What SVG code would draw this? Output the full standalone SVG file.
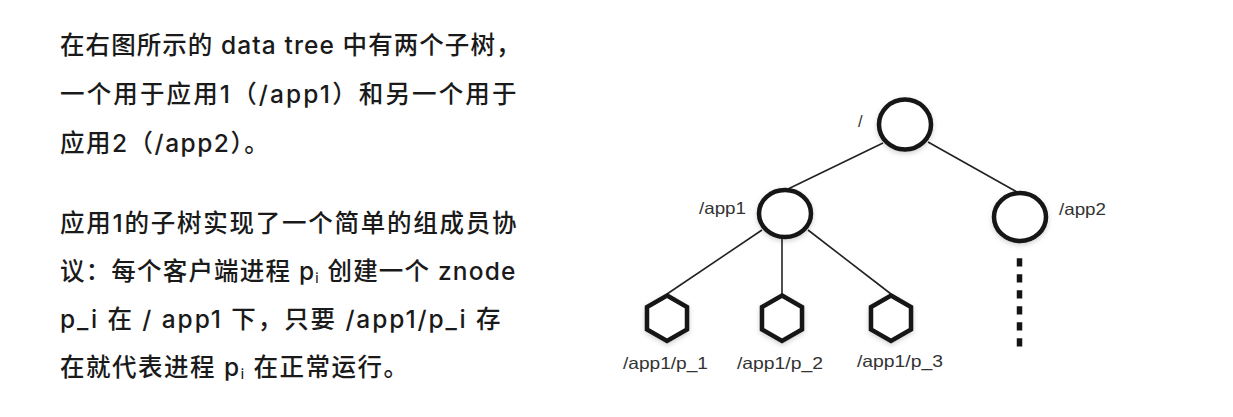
<svg xmlns="http://www.w3.org/2000/svg" width="1233" height="417" viewBox="0 0 1233 417">
  <defs>
    <filter id="shadow" x="-30%" y="-30%" width="160%" height="160%">
      <feDropShadow dx="0" dy="2" stdDeviation="2.5" flood-color="#000" flood-opacity="0.18"/>
    </filter>
    <style>
      .para { font-family: Inter, "Noto Sans CJK SC", sans-serif; font-size: 24.5px; font-weight: 500; letter-spacing: 1.5px; fill: #1a1a1a; }
      .sub { font-size: 13px; }
      .lbl { font-family: "Liberation Sans", Arial, sans-serif; font-size: 16.5px; fill: #333; }
      .node { fill: #fff; stroke: #141414; stroke-width: 4.5; filter: url(#shadow); }
      .edge { stroke: #222; stroke-width: 1.6; fill: none; }
      .dots { stroke: #141414; stroke-width: 5.5; stroke-dasharray: 8.3 7.7; fill: none; }
    </style>
  </defs>
  <rect width="1233" height="417" fill="#fff"/>

  <g id="description">
    <text class="para" x="60" y="54" textLength="462" lengthAdjust="spacing">在右图所示的 data tree 中有两个子树，</text>
    <text class="para" x="60" y="103" textLength="458" lengthAdjust="spacing">一个用于应用1（/app1）和另一个用于</text>
    <text class="para" x="60" y="152">应用2（/app2）。</text>
    <text class="para" x="60" y="232" textLength="458" lengthAdjust="spacing">应用1的子树实现了一个简单的组成员协</text>
    <text class="para" x="60" y="280" textLength="457" lengthAdjust="spacing">议：每个客户端进程 p<tspan class="sub" dy="3">i</tspan><tspan dy="-3"> 创建一个 znode</tspan></text>
    <text class="para" x="60" y="328" textLength="442" lengthAdjust="spacing">p_i 在 / app1 下，只要 /app1/p_i 存</text>
    <text class="para" x="60" y="376">在就代表进程 p<tspan class="sub" dy="3">i</tspan><tspan dy="-3"> 在正常运行。</tspan></text>
  </g>

  <g id="connectors">
    <line class="edge" x1="883" y1="143" x2="788" y2="189"/>
    <line class="edge" x1="928" y1="142" x2="1017" y2="192"/>
    <line class="edge" x1="762" y1="230" x2="667" y2="294"/>
    <line class="edge" x1="782" y1="238" x2="782" y2="294"/>
    <line class="edge" x1="808" y1="230" x2="891" y2="294"/>
    <line class="dots" x1="1019.5" y1="258.3" x2="1019.5" y2="346.6"/>
  </g>

  <g id="node-root">
    <ellipse class="node" cx="905" cy="124.5" rx="26" ry="25"/>
    <text class="lbl" x="858" y="127">/</text>
  </g>
  <g id="node-app1">
    <ellipse class="node" cx="785" cy="213.5" rx="26" ry="23.5"/>
    <text class="lbl" x="699" y="214" textLength="47" lengthAdjust="spacingAndGlyphs">/app1</text>
  </g>
  <g id="node-app2">
    <ellipse class="node" cx="1020" cy="217" rx="26" ry="24"/>
    <text class="lbl" x="1059" y="215" textLength="47" lengthAdjust="spacingAndGlyphs">/app2</text>
  </g>
  <g id="node-p1">
    <polygon class="node" points="667,295.5 687,307 687,329.5 667,341 647,329.5 647,307"/>
    <text class="lbl" x="623" y="369" textLength="85" lengthAdjust="spacingAndGlyphs">/app1/p_1</text>
  </g>
  <g id="node-p2">
    <polygon class="node" points="782,295.5 802,307 802,329.5 782,341 762,329.5 762,307"/>
    <text class="lbl" x="737" y="369" textLength="86" lengthAdjust="spacingAndGlyphs">/app1/p_2</text>
  </g>
  <g id="node-p3">
    <polygon class="node" points="891,295.5 911,307 911,329.5 891,341 871,329.5 871,307"/>
    <text class="lbl" x="857" y="367" textLength="86" lengthAdjust="spacingAndGlyphs">/app1/p_3</text>
  </g>
</svg>
